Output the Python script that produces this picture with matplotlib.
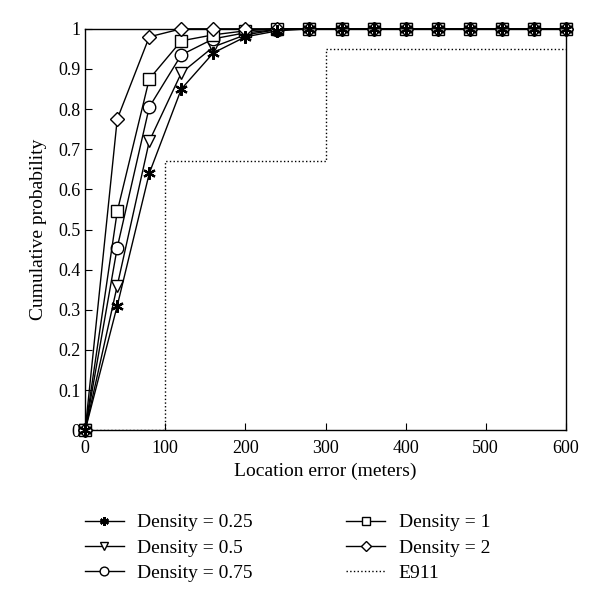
import matplotlib
matplotlib.use("Agg")
import matplotlib.pyplot as plt

plt.rcParams['font.family'] = ['Liberation Serif', 'DejaVu Serif']

x = [0, 40, 80, 120, 160, 200, 240, 280, 320, 360, 400, 440, 480, 520, 560, 600]
d025 = [0, 0.31, 0.64, 0.85, 0.94, 0.98, 0.995, 1, 1, 1, 1, 1, 1, 1, 1, 1]
d05 = [0, 0.36, 0.72, 0.89, 0.955, 0.985, 0.998, 1, 1, 1, 1, 1, 1, 1, 1, 1]
d075 = [0, 0.455, 0.805, 0.935, 0.975, 0.99, 0.998, 1, 1, 1, 1, 1, 1, 1, 1, 1]
d1 = [0, 0.545, 0.875, 0.97, 0.985, 0.995, 1, 1, 1, 1, 1, 1, 1, 1, 1, 1]
d2 = [0, 0.775, 0.98, 1, 1, 1, 1, 1, 1, 1, 1, 1, 1, 1, 1, 1]
e911_x = [0, 100, 100, 300, 300, 600]
e911_y = [0, 0, 0.67, 0.67, 0.95, 0.95]

fig = plt.figure(figsize=(6, 6), dpi=100)
ax = fig.add_axes([0.142, 0.283, 0.801, 0.669])

style = dict(color='black', lw=1, mfc='white', mec='black', mew=1, clip_on=False, zorder=3)
ax.plot(x, d025, marker=(6, 2, 0), ms=9, label='Density = 0.25',
        **{**style, 'mew': 1.6, 'zorder': 4})
ax.plot(x, d05, marker='v', ms=9, label='Density = 0.5', **style)
ax.plot(x, d075, marker='o', ms=9, label='Density = 0.75', **style)
ax.plot(x, d1, marker='s', ms=8, label='Density = 1', **style)
ax.plot(x, d2, marker='D', ms=7, label='Density = 2', **style)
ax.plot(e911_x, e911_y, color='black', lw=1, ls=':', label='E911')

ax.set_xlim(0, 600)
ax.set_ylim(0, 1)
ax.set_xticks(range(0, 601, 100))
ax.set_yticks([i / 10 for i in range(11)])
ax.set_yticklabels(['0', '0.1', '0.2', '0.3', '0.4', '0.5', '0.6', '0.7', '0.8', '0.9', '1'])
ax.tick_params(direction='in', labelsize=13, length=5)
ax.tick_params(axis='x', pad=7)
ax.set_xlabel('Location error (meters)', fontsize=14)
ax.set_ylabel('Cumulative probability', fontsize=14, labelpad=8)
for s in ax.spines.values():
    s.set_linewidth(1)

h, l = ax.get_legend_handles_labels()
fig.legend(h, l, ncol=2, frameon=False,
           loc='upper left', bbox_to_anchor=(0.112, 0.173), fontsize=14,
           columnspacing=4.8, handlelength=2.0, handletextpad=0.7,
           labelspacing=0.4, markerscale=0.7)

fig.savefig('out.png')
